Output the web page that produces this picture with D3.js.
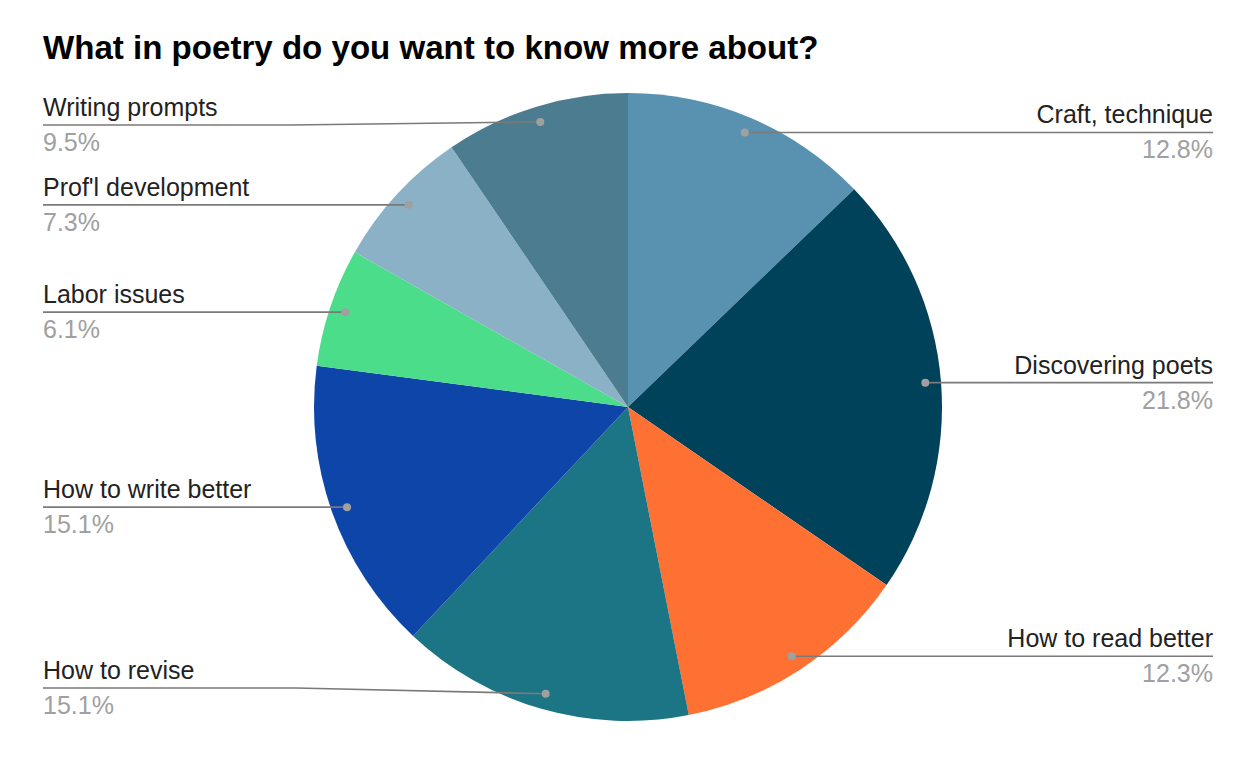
<!DOCTYPE html>
<html><head><meta charset="utf-8">
<script src="https://cdn.jsdelivr.net/npm/d3@7"></script>
<style>body{margin:0;background:#fff}svg{display:block}</style>
</head><body>
<svg id="c" width="1258" height="758"></svg>
<script>
const categories = ["Craft, technique","Discovering poets","How to read better","How to revise","How to write better","Labor issues","Prof'l development","Writing prompts"];
const values = [12.8,21.8,12.3,15.1,15.1,6.1,7.3,9.5];
const percentLabels = ["12.8%","21.8%","12.3%","15.1%","15.1%","6.1%","7.3%","9.5%"];
const colors = ["#5992b0","#00425a","#ff7033","#1c7585","#0e45a8","#4cdd8a","#8ab1c6","#4b7c90"];
const title = "What in poetry do you want to know more about?";

const svg = d3.select("#c");
const cx = 628, cy = 407, R = 314;
const font = "Arial, 'Liberation Sans', sans-serif";

svg.append("text").attr("x",43).attr("y",59).attr("font-family",font)
  .attr("font-weight","bold").attr("font-size",33.1).attr("fill","#000").text(title);

const data = categories.map((c,i)=>({cat:c,value:values[i],pct:percentLabels[i],color:colors[i]}));
const pie = d3.pie().value(d=>d.value).sort(null);
const arcs = pie(data);
const arc = d3.arc().innerRadius(0).outerRadius(R);
const g = svg.append("g").attr("transform",`translate(${cx},${cy})`);
g.selectAll("path").data(arcs).join("path").attr("d",arc).attr("fill",d=>d.data.color);

const dotArc = d3.arc().innerRadius(R*0.95).outerRadius(R*0.95);
const lab = svg.append("g");
arcs.forEach(a=>{
  const [px,py] = dotArc.centroid(a);
  const dx = cx+px, dy = cy+py;
  const right = px > 0;
  const ly = Math.max(125, Math.min(688, dy));
  const ex = right ? 1213 : 43;
  let pts;
  if (Math.abs(ly-dy) > 0.5) {
    const bx = right ? dx + 250 : dx - 250;
    pts = [[dx,dy],[bx,ly],[ex,ly]];
  } else pts = [[dx,dy],[ex,ly]];
  lab.append("path").attr("d",d3.line()(pts))
    .attr("fill","none").attr("stroke","#7a7a7a").attr("stroke-width",1.6);
  lab.append("circle").attr("cx",dx).attr("cy",dy).attr("r",4).attr("fill","#a0a0a0");
  const anchor = right ? "end" : "start";
  lab.append("text").attr("x",ex).attr("y",ly-9).attr("text-anchor",anchor)
    .attr("font-family",font).attr("font-size",25).attr("fill","#222").text(a.data.cat);
  lab.append("text").attr("x",ex).attr("y",ly+26).attr("text-anchor",anchor)
    .attr("font-family",font).attr("font-size",25).attr("fill","#a0a0a0").text(a.data.pct);
});
</script>
</body></html>
